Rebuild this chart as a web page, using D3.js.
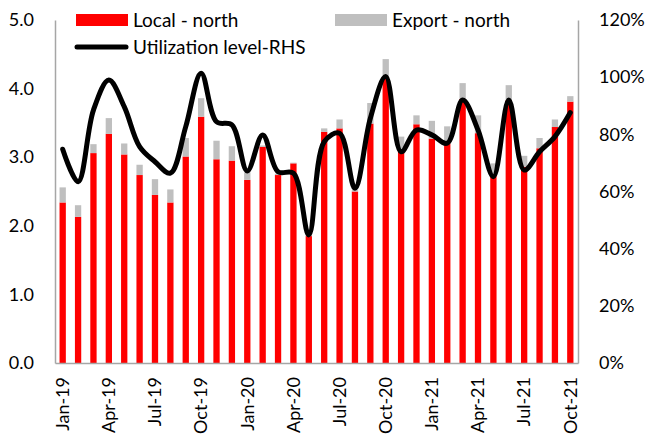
<!DOCTYPE html>
<html><head><meta charset="utf-8">
<script src="https://cdn.jsdelivr.net/npm/d3@7"></script>
<style>body{margin:0;background:#fff}svg{display:block}text{font-family:Lato,"Open Sans",sans-serif;fill:#000}</style>
</head><body><svg id="c" width="646" height="438"></svg>
<script>
const months = ["Jan-19","Feb-19","Mar-19","Apr-19","May-19","Jun-19","Jul-19","Aug-19","Sep-19","Oct-19","Nov-19","Dec-19",
"Jan-20","Feb-20","Mar-20","Apr-20","May-20","Jun-20","Jul-20","Aug-20","Sep-20","Oct-20","Nov-20","Dec-20",
"Jan-21","Feb-21","Mar-21","Apr-21","May-21","Jun-21","Jul-21","Aug-21","Sep-21","Oct-21"];
const localNorth = [2.34,2.13,3.06,3.34,3.04,2.74,2.45,2.34,3.01,3.59,2.97,2.95,
2.67,3.15,2.74,2.91,1.85,3.37,3.42,2.50,3.49,4.15,3.10,3.48,
3.27,3.20,3.85,3.35,2.75,3.83,2.86,3.13,3.44,3.81];
const exportNorth = [0.22,0.17,0.13,0.23,0.16,0.15,0.23,0.19,0.27,0.27,0.27,0.21,
0.11,0.02,0.02,0.01,0.02,0.05,0.13,0.02,0.30,0.28,0.20,0.13,
0.26,0.25,0.23,0.26,0.16,0.22,0.16,0.15,0.11,0.08];
const utilization = [74.8,63.4,88.5,99.0,89.7,75.7,70.4,66.4,82.7,101.4,84.4,83.3,
67.2,79.8,66.9,66.4,44.8,77.4,80.4,61.1,85.6,100.2,73.9,81.5,
79.8,76.9,92.0,81.5,65.2,92.0,67.5,73.9,79.2,87.6];
const leftTicks = [0,1,2,3,4,5];
const rightTicks = [0,0.2,0.4,0.6,0.8,1.0,1.2];
const xTickLabels = ["Jan-19","Apr-19","Jul-19","Oct-19","Jan-20","Apr-20","Jul-20","Oct-20","Jan-21","Apr-21","Jul-21","Oct-21"];

const svg = d3.select("#c");
const L = 55, R = 578, T = 20, B = 363;
const x = d3.scaleBand().domain(months).range([L, R]).paddingInner(0.59).paddingOuter(0.295);
const y = d3.scaleLinear().domain([0,5]).range([B, T]);
const y2 = d3.scaleLinear().domain([0,1.2]).range([B, T]);
const axisCol = "#a6a6a6";

// bars
const g = svg.append("g");
g.selectAll(".loc").data(months).join("rect")
  .attr("x", d => x(d)).attr("width", x.bandwidth())
  .attr("y", (d,i) => y(localNorth[i])).attr("height", (d,i) => y(0) - y(localNorth[i]))
  .attr("fill", "#ff0000");
g.selectAll(".exp").data(months).join("rect")
  .attr("x", d => x(d)).attr("width", x.bandwidth())
  .attr("y", (d,i) => y(localNorth[i] + exportNorth[i])).attr("height", (d,i) => y(localNorth[i]) - y(localNorth[i] + exportNorth[i]))
  .attr("fill", "#bfbfbf");

// axes
const la = svg.append("g").attr("transform", `translate(${L},0)`)
  .call(d3.axisLeft(y).tickValues(leftTicks).tickSize(0).tickPadding(21).tickFormat(d3.format(".1f")));
la.select(".domain").attr("stroke", axisCol).attr("stroke-width", 1.5);
la.selectAll("text").style("font-size", "18px").style("font-family", "Lato");

const ra = svg.append("g").attr("transform", `translate(${R},0)`)
  .call(d3.axisRight(y2).tickValues(rightTicks).tickSize(0).tickPadding(21).tickFormat(d3.format(".0%")));
ra.select(".domain").attr("stroke", axisCol).attr("stroke-width", 1.5);
ra.selectAll("text").style("font-size", "18px").style("font-family", "Lato");

const ba = svg.append("g").attr("transform", `translate(0,${B})`)
  .call(d3.axisBottom(x).tickValues(xTickLabels).tickSize(0).tickSizeOuter(0));
ba.select(".domain").attr("stroke", axisCol).attr("stroke-width", 1.5);
ba.selectAll("text").style("font-size", "18px").style("font-family", "Lato")
  .attr("transform", "rotate(-90)").attr("text-anchor", "end")
  .attr("x", -14).attr("y", 0).attr("dy", "0.35em");

// line
const line = d3.line().x((d,i) => x(months[i]) + x.bandwidth()/2).y(d => y2(d/100)).curve(d3.curveCatmullRom.alpha(0.5));
svg.append("path").datum(utilization).attr("d", line)
  .attr("fill", "none").attr("stroke", "#000").attr("stroke-width", 5).attr("stroke-linecap", "round").attr("stroke-linejoin", "round");

// legend
const lg = svg.append("g").style("font-size", "19px");
lg.append("rect").attr("x", 76).attr("y", 14).attr("width", 52).attr("height", 12).attr("fill", "#ff0000");
lg.append("text").attr("x", 133).attr("y", 20).attr("dy", "0.35em").text("Local - north");
lg.append("rect").attr("x", 335).attr("y", 14).attr("width", 52).attr("height", 12).attr("fill", "#bfbfbf");
lg.append("text").attr("x", 392).attr("y", 20).attr("dy", "0.35em").text("Export - north");
lg.append("line").attr("x1", 77).attr("x2", 126).attr("y1", 47).attr("y2", 47).attr("stroke", "#000").attr("stroke-width", 5).attr("stroke-linecap", "round");
lg.append("text").attr("x", 133).attr("y", 47).attr("dy", "0.35em").text("Utilization level-RHS");
</script></body></html>
